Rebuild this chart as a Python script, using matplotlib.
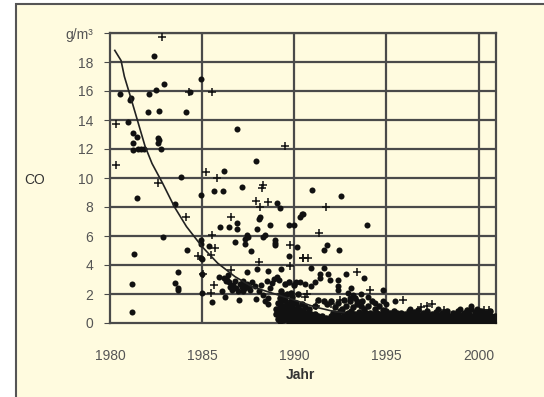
import matplotlib
matplotlib.use("Agg")
import matplotlib.pyplot as plt
from matplotlib.patches import Rectangle

plt.rcParams['font.family'] = ['Liberation Sans', 'DejaVu Sans']

# trend line
trend_year = [1980.26, 1980.6, 1980.78, 1981.16, 1981.53, 1981.9, 1982.28, 1982.85,
              1983.5, 1984.15, 1985.0, 1985.84, 1986.78, 1987.71, 1988.83, 1990.0,
              1991.08, 1992.2, 1992.7]
trend_co = [18.8, 18.1, 17.0, 15.4, 13.8, 12.2, 11.0, 9.65,
            8.0, 6.65, 5.26, 4.13, 3.2, 2.5, 2.05, 1.59,
            1.12, 0.78, 0.72]

# measurements drawn as dots
dots = [
    (1982.37, 18.4), (1984.93, 16.8), (1982.95, 16.5), (1982.52, 16.1), (1980.52, 15.8),
    (1982.12, 15.8), (1981.15, 15.5), (1981.08, 15.4), (1982.05, 14.55), (1982.66, 14.6),
    (1984.1, 14.55), (1980.97, 13.86), (1981.24, 13.1), (1981.46, 12.85), (1981.24, 12.4),
    (1982.6, 12.75), (1982.65, 12.6), (1982.58, 12.4), (1981.24, 11.9), (1981.5, 12.0),
    (1981.7, 12.0), (1981.87, 12.0), (1982.77, 12.0), (1983.85, 10.1), (1984.34, 15.9),
    (1984.93, 8.8), (1981.46, 8.6), (1983.52, 8.2), (1982.9, 5.9), (1984.96, 5.7),
    (1984.93, 5.45), (1984.2, 5.05), (1981.3, 4.75), (1985.0, 4.4), (1983.67, 3.5),
    (1981.19, 2.7), (1983.54, 2.75), (1983.67, 2.4), (1983.67, 2.3), (1985.0, 2.1),
    (1981.2, 0.75),
    (1986.87, 13.4), (1987.9, 11.2), (1986.19, 10.5), (1987.19, 9.4), (1985.65, 9.1),
    (1986.15, 9.1), (1989.06, 8.25), (1989.24, 7.9), (1990.46, 7.5), (1988.16, 7.3),
    (1988.07, 7.15), (1985.97, 6.6), (1986.46, 6.6), (1986.87, 6.9), (1986.87, 6.5),
    (1988.0, 6.5), (1988.67, 6.75), (1989.69, 6.75), (1989.96, 6.75), (1987.44, 6.05),
    (1987.5, 5.9), (1987.3, 5.8), (1988.4, 6.05), (1988.3, 5.9), (1986.76, 5.6),
    (1987.35, 5.45), (1988.97, 5.7), (1988.97, 5.55), (1988.97, 5.4), (1990.14, 5.25),
    (1985.38, 5.3), (1987.66, 5.0), (1984.96, 4.45), (1989.69, 4.6), (1985.0, 3.4),
    (1989.3, 3.75), (1988.55, 3.6), (1988.0, 3.7), (1987.44, 3.55), (1985.9, 3.2),
    (1989.06, 3.2), (1988.9, 3.05), (1989.15, 2.95), (1985.55, 1.45), (1987.0, 1.6),
    (1986.2, 3.1), (1986.3, 2.9), (1986.35, 3.0), (1986.45, 2.8), (1986.5, 2.5),
    (1986.6, 2.3), (1986.7, 2.6), (1986.8, 2.9), (1986.85, 2.4), (1986.95, 2.2),
    (1987.05, 2.7), (1987.15, 2.5), (1987.2, 2.9), (1987.3, 2.6), (1987.35, 2.4),
    (1987.45, 2.7), (1987.55, 2.5), (1987.6, 2.3), (1987.7, 2.8), (1986.4, 3.3),
    (1986.1, 2.2), (1986.25, 1.8), (1987.2, 2.2), (1987.85, 2.55), (1988.1, 2.2),
    (1988.3, 1.9), (1988.4, 1.5), (1988.6, 1.3), (1988.2, 2.6), (1988.5, 2.9),
    (1988.7, 2.4), (1988.8, 2.75), (1987.9, 1.65), (1988.55, 1.7),
    (1990.95, 9.17), (1992.53, 8.75), (1993.92, 6.75), (1990.4, 7.55), (1990.3, 7.3),
    (1991.76, 5.4), (1991.63, 5.05), (1992.44, 5.05), (1990.9, 3.77), (1991.4, 3.4),
    (1991.37, 3.1), (1991.6, 3.77), (1991.81, 3.4), (1992.8, 3.35), (1993.79, 3.1),
    (1991.94, 2.97), (1990.1, 2.8), (1990.3, 2.8), (1990.6, 2.7), (1990.9, 2.55),
    (1991.1, 2.85), (1992.39, 2.97), (1992.4, 2.55), (1992.35, 2.3), (1994.8, 2.3),
    (1992.9, 2.1), (1993.2, 1.9), (1993.1, 2.4), (1993.6, 2.0), (1995.45, 1.55),
    (1994.8, 1.55), (1999.58, 1.17), (1993.0, 1.7), (1993.4, 1.5), (1994.0, 1.8),
    (1994.4, 1.4), (1995.0, 1.3), (1996.3, 1.0), (1997.8, 0.95), (1999.0, 1.0),
    (1999.9, 0.95), (2000.2, 0.85),
]

# measurements drawn as plus signs
pluses = [
    (1982.8, 19.7), (1984.26, 15.9), (1985.56, 15.9), (1980.34, 13.7), (1980.34, 10.9),
    (1982.6, 9.65), (1984.1, 7.3), (1984.78, 4.6), (1985.07, 3.4), (1989.48, 12.2),
    (1985.2, 10.4), (1985.82, 10.0), (1988.3, 9.5), (1988.25, 9.3), (1987.9, 8.4),
    (1988.6, 8.35), (1988.16, 8.0), (1986.58, 7.3), (1985.56, 6.1), (1989.78, 5.4),
    (1985.68, 5.15), (1990.5, 4.5), (1988.07, 4.2), (1985.46, 4.7), (1989.78, 3.95),
    (1986.58, 3.65), (1985.46, 2.05), (1985.65, 2.6), (1991.7, 8.0), (1991.36, 6.2),
    (1990.5, 4.45), (1990.77, 4.5), (1993.38, 3.55), (1994.13, 2.27), (1995.9, 1.6),
    (1996.9, 1.1), (1997.2, 1.15), (1997.45, 1.3), (2000.3, 0.9), (2000.57, 0.9),
    (1998.14, 0.9), (1989.3, 2.0), (1989.5, 1.5), (1990.6, 1.8), (1990.7, 2.0),
    (1991.2, 1.2), (1992.0, 1.3), (1992.5, 1.6),
]

# dense band of low values after 1989: (year, [values])
band_rows = [
    (1989.0, [0.6, 1.0]), (1989.1, [0.3, 0.8, 1.4]), (1989.2, [0.15, 0.5, 1.1, 1.7]),
    (1989.3, [0.4, 0.9, 1.5, 2.2]), (1989.4, [0.2, 0.7, 1.2, 1.9]), (1989.5, [0.5, 1.0, 1.6, 2.7]),
    (1989.6, [0.3, 0.8, 1.3, 2.0]), (1989.7, [0.1, 0.6, 1.1, 2.8]), (1989.8, [0.4, 0.9, 1.5, 2.1]),
    (1989.9, [0.2, 0.7, 1.2, 1.8]), (1990.0, [0.1, 0.5, 1.0, 2.6]), (1990.1, [0.3, 0.8, 1.4]),
    (1990.2, [0.15, 0.6, 1.1, 2.0]), (1990.3, [0.4, 0.9]), (1990.4, [0.1, 0.6, 1.3]),
    (1990.5, [0.3, 0.8]), (1990.6, [0.1, 0.5, 1.1]), (1990.7, [0.3, 0.7]),
    (1990.8, [0.1, 0.45, 1.0]), (1990.9, [0.25, 0.6]), (1991.0, [0.1, 0.4]),
    (1991.1, [0.2, 0.6, 1.2]), (1991.2, [0.05, 0.35]), (1991.3, [0.15, 0.5, 1.6]),
    (1991.4, [0.05, 0.3]), (1991.5, [0.1, 0.45]), (1991.6, [0.2, 1.5]),
    (1991.7, [0.05, 0.35]), (1991.8, [0.15, 1.3]), (1991.9, [0.05, 0.3]),
    (1992.0, [0.1, 0.5, 1.5]), (1992.1, [0.2, 0.7]), (1992.2, [0.1, 0.4, 1.1]),
    (1992.3, [0.25, 0.6]), (1992.4, [0.1, 0.45, 1.4]), (1992.5, [0.2, 0.8]),
    (1992.6, [0.05, 0.4, 1.0]), (1992.7, [0.25, 0.6, 1.6]), (1992.8, [0.1, 0.45, 1.2]),
    (1992.9, [0.3, 0.7]), (1993.0, [0.1, 0.5, 1.5]), (1993.1, [0.25, 0.8]),
    (1993.2, [0.1, 0.45, 1.1]), (1993.3, [0.3, 0.65, 1.7]), (1993.4, [0.1, 0.5, 1.3]),
    (1993.5, [0.25, 0.75]), (1993.6, [0.1, 0.5, 1.2]), (1993.7, [0.3, 0.65, 1.5]),
    (1993.8, [0.1, 0.45, 1.0]), (1993.9, [0.25, 0.7]), (1994.0, [0.1, 0.5, 1.2]),
    (1994.1, [0.3, 0.7]), (1994.2, [0.1, 0.45, 1.5]), (1994.3, [0.25, 0.6]),
    (1994.4, [0.1, 0.5, 1.0]), (1994.5, [0.3, 0.7]), (1994.6, [0.1, 0.45, 1.2]),
    (1994.7, [0.25, 0.6]), (1994.8, [0.1, 0.5, 0.9]), (1994.9, [0.3, 0.65]),
    (1995.0, [0.1, 0.45, 0.8]), (1995.1, [0.25, 0.55]), (1995.2, [0.1, 0.4, 0.7]),
    (1995.3, [0.2, 0.55]), (1995.4, [0.05, 0.35, 0.8]), (1995.5, [0.2, 0.5]),
    (1995.6, [0.1, 0.35, 0.7]), (1995.7, [0.2, 0.5]), (1995.8, [0.1, 0.4, 0.7]),
    (1995.9, [0.2, 0.5]), (1996.0, [0.05, 0.35, 0.65]), (1996.1, [0.2, 0.5]),
    (1996.2, [0.1, 0.4, 0.8]), (1996.3, [0.25, 0.55]), (1996.4, [0.05, 0.35]),
    (1996.5, [0.2, 0.5, 0.75]), (1996.6, [0.1, 0.4]), (1996.7, [0.2, 0.55, 0.9]),
    (1996.8, [0.05, 0.35]), (1996.9, [0.2, 0.5]), (1997.0, [0.1, 0.4, 0.7]),
    (1997.1, [0.25, 0.55]), (1997.2, [0.05, 0.35, 0.8]), (1997.3, [0.2, 0.5]),
    (1997.4, [0.1, 0.4]), (1997.5, [0.25, 0.6]), (1997.6, [0.05, 0.35]),
    (1997.7, [0.2, 0.5, 0.75]), (1997.8, [0.1, 0.35]), (1997.9, [0.2, 0.55]),
    (1998.0, [0.05, 0.35, 0.7]), (1998.1, [0.2, 0.5]), (1998.2, [0.1, 0.4]),
    (1998.3, [0.2, 0.55, 0.8]), (1998.4, [0.05, 0.35]), (1998.5, [0.2, 0.5]),
    (1998.6, [0.1, 0.4, 0.7]), (1998.7, [0.25, 0.55]), (1998.8, [0.05, 0.35]),
    (1998.9, [0.2, 0.5, 0.8]), (1999.0, [0.1, 0.4]), (1999.1, [0.2, 0.55]),
    (1999.2, [0.05, 0.35, 0.7]), (1999.3, [0.2, 0.5]), (1999.4, [0.1, 0.4, 0.9]),
    (1999.5, [0.25, 0.6]), (1999.6, [0.05, 0.35, 1.0]), (1999.7, [0.2, 0.5]),
    (1999.8, [0.1, 0.4, 0.75]), (1999.9, [0.2, 0.55]), (2000.0, [0.05, 0.35]),
    (2000.1, [0.2, 0.5, 0.8]), (2000.2, [0.1, 0.4]), (2000.3, [0.2, 0.55]),
    (2000.4, [0.05, 0.35, 0.7]), (2000.5, [0.2, 0.5]), (2000.6, [0.1, 0.4, 0.8]),
    (2000.7, [0.2, 0.5]), (2000.8, [0.05, 0.35]), (2000.9, [0.15, 0.45]),
]

x_ticks = [1980, 1985, 1990, 1995, 2000]
y_ticks = [0, 2, 4, 6, 8, 10, 12, 14, 16, 18]

bg = '#fffbdf'
line_col = '#4a4a4a'
text_col = '#555555'

fig = plt.figure(figsize=(5.44, 3.97), dpi=100, facecolor='white')
fig.add_artist(Rectangle((16 / 544, -0.05), 1.0, 1 - 4 / 397 + 0.05,
                         transform=fig.transFigure, facecolor=bg,
                         edgecolor='#555555', linewidth=1.5, zorder=0))

ax = fig.add_axes([110 / 544, 1 - 323 / 397, 385.5 / 544, 290 / 397])
ax.set_facecolor(bg)
ax.set_xlim(1980.18, 2000.92)
ax.set_ylim(0, 20)

for yv in y_ticks[1:] + [20]:
    ax.axhline(yv, color=line_col, lw=1.6, zorder=1)
for xv in x_ticks[1:]:
    ax.axvline(xv, color=line_col, lw=1.6, zorder=1)

band_x = [r[0] for r in band_rows for _ in r[1]]
band_y = [v for r in band_rows for v in r[1]]

ax.scatter([d[0] for d in dots], [d[1] for d in dots], s=19, c='#111111',
           linewidths=0, zorder=3)
ax.scatter(band_x, band_y, s=22, c='#111111', linewidths=0, zorder=3)
ax.scatter([p[0] for p in pluses], [p[1] for p in pluses], s=26, marker='+',
           c='#111111', linewidths=1.1, zorder=3)
ax.plot(trend_year, trend_co, color='#222222', lw=1.2, zorder=4)

for sp in ax.spines.values():
    sp.set_color(line_col)
    sp.set_linewidth(1.6)

ax.set_xticks(x_ticks)
ax.set_yticks(y_ticks + [20])
ax.set_yticklabels([str(v) for v in y_ticks] + ['g/m³'])
ax.tick_params(axis='y', length=4, width=0.8, color=line_col, pad=8,
               labelsize=10, labelcolor=text_col)
ax.tick_params(axis='x', length=0, pad=19, labelsize=10, labelcolor=text_col)

fig.text(35 / 544, 1 - 180 / 397, 'CO', ha='center', va='center',
         fontsize=10, color='#333333')
fig.text(300 / 544, 1 - 375 / 397, 'Jahr', ha='center', va='center',
         fontsize=10, fontweight='bold', color='#333333')

fig.savefig('out.png', dpi=100, facecolor='white')
